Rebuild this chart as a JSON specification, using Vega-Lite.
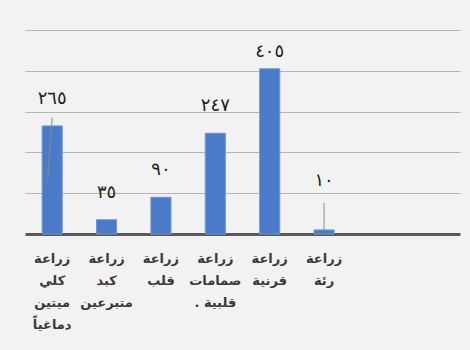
{
  "$schema": "https://vega.github.io/schema/vega-lite/v6.json",
  "autosize": "none",
  "width": 435,
  "height": 204,
  "padding": {"left": 25, "top": 30, "right": 10, "bottom": 116},
  "background": "#f2f2f2",
  "config": {
    "view": {"stroke": null},
    "font": "DejaVu Sans"
  },
  "data": {
    "values": [
      {"organ": "زراعة\nكلي\nميتين\nدماغياً", "value": 265, "label": "٢٦٥"},
      {"organ": "زراعة\nكبد\nمتبرعين", "value": 35, "label": "٣٥"},
      {"organ": "زراعة\nقلب", "value": 90, "label": "٩٠"},
      {"organ": "زراعة\nصمامات\nقلبية .‏", "value": 247, "label": "٢٤٧"},
      {"organ": "زراعة\nقرنية", "value": 405, "label": "٤٠٥"},
      {"organ": "زراعة\nرئة", "value": 10, "label": "١٠"}
    ]
  },
  "encoding": {
    "x": {
      "field": "organ",
      "type": "nominal",
      "sort": null,
      "scale": {
        "domain": ["زراعة\nكلي\nميتين\nدماغياً", "زراعة\nكبد\nمتبرعين", "زراعة\nقلب", "زراعة\nصمامات\nقلبية .‏", "زراعة\nقرنية", "زراعة\nرئة", " ", "  "],
        "paddingInner": 0.63,
        "paddingOuter": 0.315
      },
      "axis": {
        "title": null,
        "labelAngle": 0,
        "labelExpr": "split(datum.value, '\\n')",
        "labelFontSize": 13,
        "labelFontWeight": "bold",
        "labelColor": "#3a3a3a",
        "labelLineHeight": 22,
        "labelBaseline": "top",
        "labelPadding": 18,
        "labelOverlap": false,
        "labelLimit": 200,
        "ticks": false,
        "domainColor": "#5a5a5a",
        "domainWidth": 3,
        "grid": false
      }
    },
    "y": {
      "field": "value",
      "type": "quantitative",
      "scale": {"domain": [0, 500], "nice": false},
      "axis": {
        "title": null,
        "labels": false,
        "ticks": false,
        "domain": false,
        "grid": true,
        "gridColor": "#b4b4b4",
        "gridWidth": 1,
        "values": [100, 200, 300, 400, 500]
      }
    }
  },
  "layer": [
    {
      "mark": {"type": "bar", "color": "#4a7bc8", "stroke": "#6f97d8", "strokeWidth": 1}
    },
    {
      "mark": {"type": "rule", "color": "#8a8a8a", "strokeWidth": 1},
      "transform": [{"filter": "datum.value == 10"}],
      "encoding": {
        "y": {"datum": 10, "type": "quantitative"},
        "y2": {"datum": 76}
      }
    },
    {
      "mark": {"type": "rule", "color": "#8a8a8a", "strokeWidth": 1},
      "transform": [{"filter": "datum.value == 265"}],
      "encoding": {
        "x": {"field": "organ", "type": "nominal", "bandPosition": 0.5},
        "x2": {"field": "organ", "bandPosition": 0.28},
        "y": {"datum": 286, "type": "quantitative"},
        "y2": {"datum": 133}
      }
    },
    {
      "mark": {"type": "text", "baseline": "bottom", "dy": -18, "fontSize": 18, "color": "#222222"},
      "transform": [{"filter": "datum.value != 10 && datum.value != 405"}],
      "encoding": {"text": {"field": "label"}}
    },
    {
      "mark": {"type": "text", "baseline": "bottom", "dy": -8, "fontSize": 18, "color": "#222222"},
      "transform": [{"filter": "datum.value == 405"}],
      "encoding": {"text": {"field": "label"}}
    },
    {
      "mark": {"type": "text", "baseline": "bottom", "dy": -40, "fontSize": 18, "color": "#222222"},
      "transform": [{"filter": "datum.value == 10"}],
      "encoding": {"text": {"field": "label"}}
    }
  ]
}
